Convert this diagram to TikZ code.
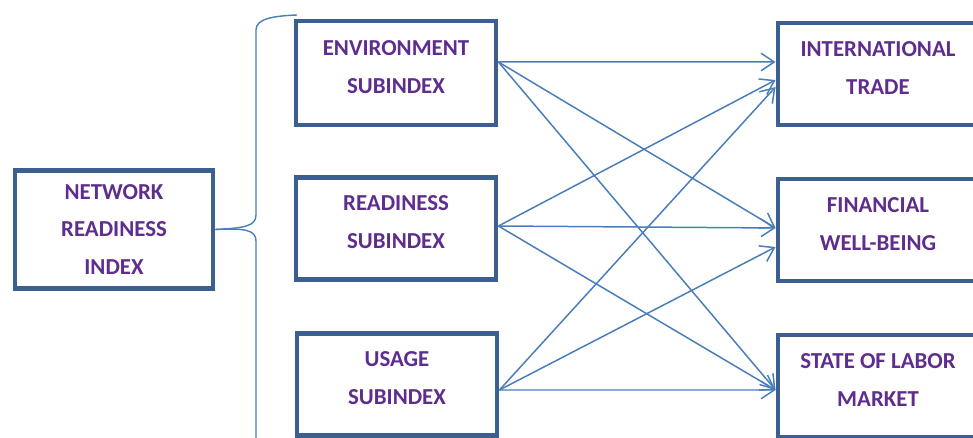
\documentclass[tikz,border=0pt]{standalone}
\usepackage{fontspec}
\setmainfont{Carlito}
\usetikzlibrary{arrows.meta}
\definecolor{boxblue}{HTML}{3B5F8E}
\definecolor{lineblue}{HTML}{4A7EBB}
\definecolor{textpurple}{HTML}{5E2D8E}

\begin{document}
\begin{tikzpicture}[x=0.02cm,y=-0.02cm,
 idx/.style={draw=boxblue,line width=2.8pt,fill=white,minimum width=4cm,minimum height=2.04cm,align=center,text=textpurple,text depth=7pt,font=\bfseries\fontsize{13}{21.5}\selectfont},
 brace/.style={draw=lineblue,line width=0.8pt},
 link/.style={->,>={Straight Barb[length=7.5pt,width=10pt]},draw=lineblue,line width=0.85pt}]
 \clip (0,0) rectangle (973,438); %枠
 \node[idx,text depth=0pt,minimum width=3.96cm,minimum height=2.36cm] (nri) at (114,229.5) {NETWORK\\READINESS\\INDEX}; %左
 \node[idx,minimum height=2.08cm] (env) at (396,73) {ENVIRONMENT\\SUBINDEX};
 \node[idx] (read) at (396,228.5) {READINESS\\SUBINDEX};
 \node[idx] (usage) at (397,384.5) {USAGE\\SUBINDEX};
 \node[idx] (int) at (878,74) {INTERNATIONAL\\TRADE}; %右
 \node[idx] (fin) at (878,230) {FINANCIAL\\WELL-BEING};
 \node[idx] (state) at (878,386) {STATE OF LABOR\\MARKET};
 \coordinate (bracetop) at (297,15);
 \coordinate (bracebot) at (256,445);
 \draw[brace] (nri.east) .. controls (245,228) and (256,226) .. (256,215) -- (256,30) .. controls (256,19) and (272,16) .. (bracetop); %括弧
 \draw[brace] (nri.east) .. controls (245,228) and (256,230) .. (256,241) -- (bracebot);
 \draw[link] ([yshift=0.22cm]env.east) -- ([yshift=0.24cm]int.west); %矢印
 \draw[link] ([yshift=0.22cm]env.east) -- ([yshift=0.04cm]fin.west);
 \draw[link] ([yshift=0.22cm]env.east) -- ([yshift=-0.08cm]state.west);
 \draw[link] ([yshift=0.05cm]read.east) -- ([yshift=-0.12cm]int.west);
 \draw[link] ([yshift=0.05cm]read.east) -- ([yshift=0.04cm]fin.west);
 \draw[link] ([yshift=0.05cm]read.east) -- ([yshift=-0.08cm]state.west);
 \draw[link] ([yshift=-0.11cm]usage.east) -- ([yshift=-0.26cm]int.west);
 \draw[link] ([yshift=-0.11cm]usage.east) -- ([yshift=-0.34cm]fin.west);
 \draw[link] ([yshift=-0.11cm]usage.east) -- ([yshift=-0.08cm]state.west);
\end{tikzpicture}
\end{document}
